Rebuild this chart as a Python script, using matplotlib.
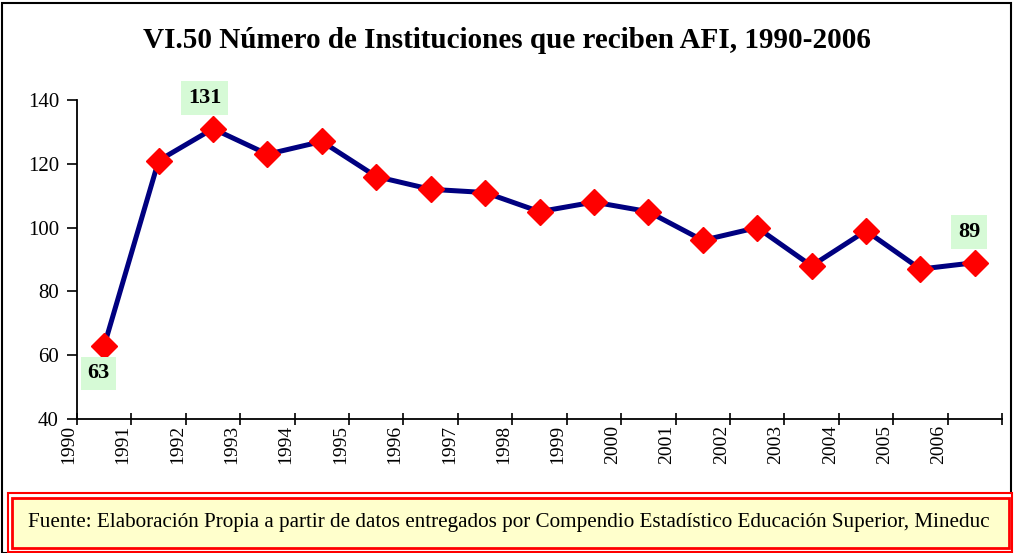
import matplotlib.pyplot as plt
from matplotlib.patches import Rectangle

years = [str(y) for y in range(1990, 2007)]
values = [63, 121, 131, 123, 127, 116, 112, 111, 105, 108, 105, 96, 100, 88, 99, 87, 89]
# index -> label offset in points
labelled = {0: (-4, -20), 2: (-6, 22), 16: (-4, 22)}

plt.rcParams['font.family'] = ['Liberation Serif', 'DejaVu Serif']

fig = plt.figure(figsize=(10.14, 5.53), dpi=100)
ax = fig.add_axes([77/1014, 1-419/553, (1002-77)/1014, (419-100)/553])

xs = [i + 0.5 for i in range(len(values))]
ax.plot(xs, values, color='#000080', lw=3.6, marker='D', ms=13,
        mfc='#ff0000', mec='#ff0000', zorder=3)

for i, off in labelled.items():
    ax.annotate(str(values[i]), (xs[i], values[i]), xytext=off,
                textcoords='offset points', ha='center', va='center',
                fontsize=16, fontweight='bold', zorder=4,
                bbox=dict(boxstyle='square,pad=0.3', fc='#d6fad6', ec='none'))

ax.set_xlim(0, 17)
ax.set_ylim(40, 140)
ax.set_yticks(range(40, 141, 20))
ax.set_xticks(range(18))
ax.set_xticklabels(years + [''], rotation=90, fontsize=14, ha='right', va='top')
ax.tick_params(axis='y', labelsize=15, length=7, width=1.2, pad=6)
ax.tick_params(axis='x', direction='inout', length=8, width=1.2, pad=0)
for s in ['top', 'right']:
    ax.spines[s].set_visible(False)
for s in ['left', 'bottom']:
    ax.spines[s].set_linewidth(1.3)

fig.text(507/1014, 1-40/553, 'VI.50 Número de Instituciones que reciben AFI, 1990-2006',
         ha='center', va='center', fontsize=21, fontweight='bold')

# outer frame
fig.add_artist(Rectangle((2/1014, 0), 1009/1014, 1-3/553, transform=fig.transFigure,
                         fill=False, ec='black', lw=1.5))
# source box
fig.add_artist(Rectangle((8/1014, 1/553), 1004/1014, 59/553, transform=fig.transFigure,
                         fc='white', ec='#ff0000', lw=1.5))
fig.add_artist(Rectangle((12/1014, 5/553), 997/1014, 50/553, transform=fig.transFigure,
                         fc='#ffffcc', ec='#ff0000', lw=2))
fig.text(28/1014, 1-523/553,
         'Fuente: Elaboración Propia a partir de datos entregados por Compendio Estadístico Educación Superior, Mineduc',
         ha='left', va='center', fontsize=15.2)

plt.savefig('out.png', dpi=100)
